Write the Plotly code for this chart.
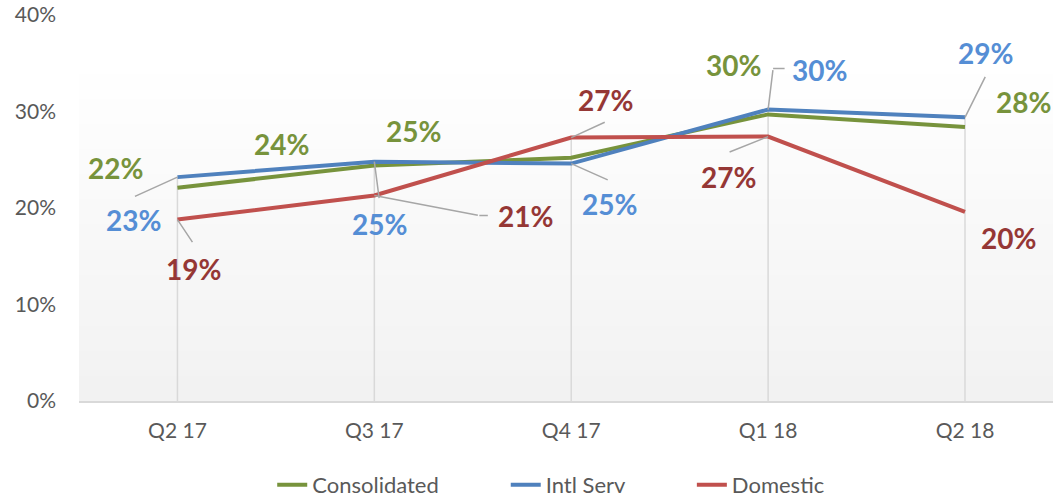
import plotly.graph_objects as go

# quarterly margin data (%)
quarters = ["Q2 17", "Q3 17", "Q4 17", "Q1 18", "Q2 18"]
consolidated = [22.1, 24.4, 25.2, 29.7, 28.4]
intl_serv = [23.2, 24.8, 24.6, 30.2, 29.4]
domestic = [18.8, 21.3, 27.3, 27.4, 19.6]

# label placement (pixel offsets from the point) and leader lines
# label: (dx, dy) ; leader: (ax, ay) or None ; bend: (xshift, yshift, ax) or None
green_lbl = [(-62, 20), (-93, 22), (-158, 27), (-35, 49), (59, 25)]
blue_lbl = [(-44, -43), (5, -62), (38, -40), (51, 40), (21, 64)]
red_lbl = [(16, -49), (151, -21), (34, 38), (-40, -40), (44, -26)]
blue_lead = [(-44, 20), (5, 38), (38, 17), (5, -41), (21, -42)]
red_lead = [(16, 24), (105, 20), (35, -16), (-40, 16), None]
blue_bend = [None, None, None, (5, 41, 13), None]
red_bend = [None, (105, -20, 10), None, None, None]

pad = "\u00a0" * 11
series = [
    ("Consolidated" + pad, consolidated, "#77933C", "#77933C", green_lbl, [None] * 5, [None] * 5),
    ("Intl Serv" + pad, intl_serv, "#4F81BD", "#558ED5", blue_lbl, blue_lead, blue_bend),
    ("Domestic", domestic, "#C0504D", "#953735", red_lbl, red_lead, red_bend),
]

fig = go.Figure()

# background gradient (white at top -> light grey at bottom)
n = 40
top = 0.87
for i in range(n):
    t = i / (n - 1)
    c = int(242 + (255 - 242) * t)
    fig.add_shape(type="rect", xref="paper", yref="paper", x0=0, x1=1,
                  y0=top * i / n, y1=top * (i + 1) / n + 0.002,
                  fillcolor=f"rgb({c},{c},{c})", line_width=0, layer="below")

# drop lines from the highest point in each quarter
dx, dy = [], []
for i, q in enumerate(quarters):
    dx += [q, q, None]
    dy += [0, max(consolidated[i], intl_serv[i], domestic[i]), None]
fig.add_trace(go.Scatter(x=dx, y=dy, mode="lines", line=dict(color="#D9D9D9", width=1.5),
                         showlegend=False, hoverinfo="skip"))

for name, vals, col, tcol, lbl, lead, bend in series:
    fig.add_trace(go.Scatter(x=quarters, y=vals, mode="lines", name=name,
                             line=dict(color=col, width=4)))
    for i, v in enumerate(vals):
        fig.add_annotation(x=quarters[i], y=v, text=f"{round(v)}%", showarrow=False,
                           xshift=lbl[i][0], yshift=lbl[i][1],
                           font=dict(family="Lato", size=28, color=tcol, weight="bold"))
        if lead[i]:
            fig.add_annotation(x=quarters[i], y=v, text="", showarrow=True, arrowhead=0,
                               arrowwidth=1.5, arrowcolor="#A6A6A6", standoff=0,
                               ax=lead[i][0], ay=lead[i][1])
        if bend[i]:
            fig.add_annotation(x=quarters[i], y=v, text="", showarrow=True, arrowhead=0,
                               arrowwidth=1.5, arrowcolor="#A6A6A6", standoff=0,
                               xshift=bend[i][0], yshift=bend[i][1], ax=bend[i][2], ay=0)

fig.update_layout(
    width=1053, height=500,
    margin=dict(l=79, r=0, t=15, b=99),
    plot_bgcolor="white", paper_bgcolor="white",
    font=dict(family="Lato", size=21, color="#595959"),
    legend=dict(orientation="h", xref="container", yref="container",
                x=0.523, xanchor="center", y=0.072, yanchor="top",
                font=dict(size=22, color="#595959")),
)
fig.update_xaxes(range=[-0.5, 4.447], showgrid=False, showline=True, linecolor="#D9D9D9",
                 linewidth=1.5, ticks="", ticklabelstandoff=10, automargin=False)
fig.update_yaxes(range=[0, 40], dtick=10, ticksuffix="%", showgrid=False, zeroline=False,
                 ticks="", ticklabelstandoff=22, automargin=False)

# drop the page's default body margin so the figure sits at the window corner
fig.write_html("out.html", config={"displayModeBar": False},
               post_script="document.body.style.margin='0';")
